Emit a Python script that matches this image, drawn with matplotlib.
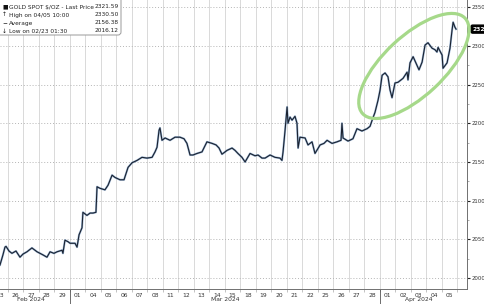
import matplotlib
matplotlib.use("Agg")
import matplotlib.pyplot as plt
import matplotlib.transforms as mtransforms
from matplotlib.patches import Ellipse, FancyBboxPatch

# trading days shown on the x axis (index 0 = Feb 23)
day_labels = ["23", "26", "27", "28", "29", "01", "04", "05", "06", "07", "08",
              "11", "12", "13", "14", "15", "18", "19", "20", "21", "22",
              "25", "26", "27", "28", "01", "02", "03", "04", "05"]
month_names = ["Feb 2024", "Mar 2024", "Apr 2024"]
month_of_day = [0] * 5 + [1] * 20 + [2] * 5

# gold spot: time in trading days, price in $/oz
t = [0.00, 0.19, 0.32, 0.39, 0.58, 0.77, 1.03, 1.29, 1.48, 1.74, 2.06, 2.26,
     2.39, 2.58, 2.77, 3.03, 3.23, 3.48, 3.68, 4.00, 4.06, 4.19, 4.39, 4.52,
     4.84, 4.97, 5.10, 5.29, 5.35, 5.61, 5.81, 6.00, 6.19, 6.26, 6.45, 6.77,
     6.97, 7.23, 7.42, 7.74, 8.00, 8.26, 8.52, 8.84, 9.16, 9.48, 9.81, 10.00,
     10.13, 10.26, 10.32, 10.45, 10.65, 10.97, 11.29, 11.61, 11.87, 12.06,
     12.26, 12.45, 12.71, 13.03, 13.23, 13.35, 13.68, 13.94, 14.13, 14.32,
     14.65, 14.97, 15.16, 15.35, 15.61, 15.81, 16.13, 16.45, 16.65, 16.90,
     17.10, 17.42, 17.74, 18.06, 18.19, 18.26, 18.39, 18.52, 18.58, 18.71,
     18.84, 19.03, 19.16, 19.23, 19.35, 19.68, 19.87, 20.13, 20.32, 20.65,
     20.90, 21.10, 21.42, 21.74, 22.00, 22.06, 22.13, 22.45, 22.77, 23.03,
     23.35, 23.68, 23.87, 24.06, 24.19, 24.39, 24.52, 24.65, 24.84, 25.03,
     25.16, 25.29, 25.48, 25.68, 26.00, 26.26, 26.32, 26.45, 26.65, 26.90,
     27.03, 27.23, 27.42, 27.61, 27.87, 28.06, 28.19, 28.26, 28.52, 28.58,
     28.84, 28.97, 29.03, 29.16, 29.23, 29.35, 29.42]
price = [2017, 2030, 2040, 2041, 2035, 2032, 2035, 2027, 2031, 2034, 2039, 2036,
         2034, 2032, 2030, 2027, 2034, 2032, 2034, 2036, 2032, 2049, 2047, 2045,
         2045, 2040, 2056, 2065, 2085, 2081, 2084, 2084, 2085, 2118, 2116, 2114,
         2120, 2133, 2130, 2127, 2127, 2143, 2149, 2152, 2156, 2155, 2156, 2163,
         2169, 2191, 2194, 2178, 2181, 2178, 2182, 2182, 2180, 2174,
         2159, 2159, 2161, 2163, 2171, 2176, 2174, 2172, 2168, 2160,
         2165, 2168, 2165, 2161, 2156, 2150, 2161, 2158, 2159, 2155,
         2155, 2159, 2156, 2155, 2152, 2163, 2191, 2221, 2200, 2208,
         2204, 2209, 2200, 2168, 2182, 2181, 2172, 2176, 2161, 2172,
         2174, 2178, 2174, 2176, 2178, 2200, 2181, 2177, 2180, 2193,
         2190, 2193, 2196, 2207, 2214, 2230, 2243, 2262, 2265, 2260,
         2243, 2233, 2252, 2253, 2258, 2266, 2256, 2278, 2286, 2275,
         2269, 2279, 2301, 2304, 2297, 2295, 2292, 2298, 2288, 2271,
         2278, 2291, 2297, 2320, 2330.5, 2324, 2321.59]

legend_rows = [("\u25a0", "GOLD SPOT $/OZ - Last Price", "2321.59"),
               ("\u2191", "High on 04/05 10:00", "2330.50"),
               ("\u2212", "Average", "2156.38"),
               ("\u2193", "Low on 02/23 01:30", "2016.12")]
last_price = 2321.59
y_ticks = [2000, 2050, 2100, 2150, 2200, 2250, 2300, 2350]

plt.rcParams['font.family'] = ['DejaVu Sans']
fig = plt.figure(figsize=(4.85, 3.04), dpi=100)
ax = fig.add_axes([0.0, 0.049, 0.963, 0.951])
n_days = len(day_labels)

# grid: solid day boundaries, dotted price levels
for b in range(n_days):
    ax.axvline(b + 0.5, color="#d9d9d9", lw=0.7, zorder=0)
for yv in y_ticks:
    ax.axhline(yv, color="#b5b5b5", lw=0.7, ls=(0, (1, 2)), zorder=0)

ax.plot(t, price, color="#5b86b8", lw=1.5, alpha=0.6, zorder=2)
ax.plot(t, price, color="#1a2230", lw=0.8, zorder=3)

# axes styling
for s in ["left", "top"]:
    ax.spines[s].set_visible(False)
for s in ["right", "bottom"]:
    ax.spines[s].set_color("#707070")
    ax.spines[s].set_linewidth(0.7)
ax.yaxis.tick_right()
ax.set_yticks(y_ticks)
ax.set_yticklabels([str(v) for v in y_ticks])
ax.set_yticks([v + 25 for v in y_ticks[:-1]], minor=True)
ax.tick_params(axis="y", which="major", length=2, width=0.8, color="#222222",
               labelsize=3.9, labelcolor="#333333", pad=1.0)
ax.tick_params(axis="y", which="minor", length=1.5, width=0.5, color="#888888")
ax.set_xticks(range(n_days))
ax.set_xticklabels(day_labels)
ax.set_xticks([b + 0.5 for b in range(n_days)], minor=True)
ax.tick_params(axis="x", which="major", length=0, labelsize=4.3,
               labelcolor="#333333", pad=2.5)
ax.tick_params(axis="x", which="minor", length=2, width=0.5, color="#aaaaaa")

# month separators and month labels
for i in range(1, n_days):
    if month_of_day[i] != month_of_day[i - 1]:
        ax.axvline(i - 0.5, ymin=-0.06, ymax=0, color="#555555", lw=0.6,
                   clip_on=False)
lab_tr = mtransforms.offset_copy(ax.get_xaxis_transform(), fig=fig, y=-10.5,
                                 units="dots")
for m, name in enumerate(month_names):
    idx = [i for i in range(n_days) if month_of_day[i] == m]
    ax.text(sum(idx) / len(idx), 0, name, transform=lab_tr, ha="center",
            va="center", fontsize=4.3, color="#333333")

# last price tag on the axis (cut by the right edge, as in the original)
ax.annotate(f"{last_price:.2f}", xy=(1.0, last_price),
            xycoords=("axes fraction", "data"), xytext=(4, 0),
            textcoords="offset points", ha="left", va="center", fontsize=4.3,
            color="white", fontweight="bold", annotation_clip=False,
            bbox=dict(boxstyle="round,pad=0.25", fc="black", ec="black"))

# green ellipse around the April rally
ell_tr = fig.dpi_scale_trans + mtransforms.ScaledTranslation(
    26.7, 2274, ax.transData)
ax.add_patch(Ellipse((0, 0), 1.40, 0.60, angle=43, transform=ell_tr,
                     fill=False, ec="#a6d98a", lw=2.3, zorder=4,
                     clip_on=False))

# limits last so set_ticks / patches cannot widen them
ax.set_xlim(0, 30.13)
ax.set_ylim(1985.8, 2359.2)

# legend box
box = FancyBboxPatch((-3, 269), 124, 40, boxstyle="round,pad=0,rounding_size=3",
                     transform=mtransforms.IdentityTransform(), fc="white",
                     ec="#9a9a9a", lw=0.7, zorder=5)
fig.patches.append(box)
for r, (sym, lab, val) in enumerate(legend_rows):
    yy = 297 - r * 8
    fig.text(2 / 485, yy / 304, sym, fontsize=4.2, color="#111111",
             va="center", zorder=6)
    fig.text(9 / 485, yy / 304, lab, fontsize=4.2, color="#222222",
             va="center", zorder=6)
    fig.text(119 / 485, yy / 304, val, fontsize=4.2, color="#222222",
             va="center", ha="right", zorder=6)

fig.savefig("out.png", dpi=100)
